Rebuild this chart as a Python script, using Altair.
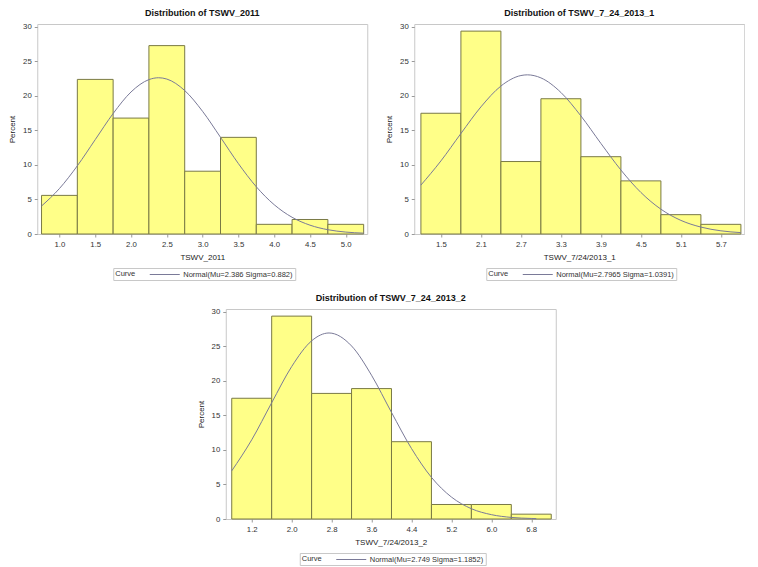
import altair as alt
import pandas as pd

# ---------------- data ----------------
titles = ["Distribution of TSWV_2011",
          "Distribution of TSWV_7_24_2013_1",
          "Distribution of TSWV_7_24_2013_2"]
x_titles = ["TSWV_2011", "TSWV_7/24/2013_1", "TSWV_7/24/2013_2"]
curve_labels = ["Normal(Mu=2.386 Sigma=0.882)",
                "Normal(Mu=2.7965 Sigma=1.0391)",
                "Normal(Mu=2.749 Sigma=1.1852)"]
bin_widths = [0.5, 0.6, 0.8]
y_ticks = [0, 5, 10, 15, 20, 25, 30]

mid_2011 = [1.0, 1.5, 2.0, 2.5, 3.0, 3.5, 4.0, 4.5, 5.0]
pct_2011 = [5.59, 22.38, 16.78, 27.27, 9.09, 13.99, 1.40, 2.10, 1.40]
curve_x_2011 = [0.75, 1.0, 1.25, 1.5, 1.75, 2.0, 2.25, 2.386, 2.5, 2.75, 3.0,
                3.25, 3.5, 3.75, 4.0, 4.25, 4.5, 4.75, 5.0, 5.25]
curve_y_2011 = [4.05, 6.58, 9.87, 13.66, 17.44, 20.56, 22.35, 22.62, 22.43, 20.77,
                17.75, 14.00, 10.19, 6.84, 4.24, 2.42, 1.28, 0.62, 0.28, 0.12]

mid_2013_1 = [1.5, 2.1, 2.7, 3.3, 3.9, 4.5, 5.1, 5.7]
pct_2013_1 = [17.48, 29.37, 10.49, 19.58, 11.19, 7.69, 2.80, 1.40]
curve_x_2013_1 = [1.2, 1.5, 1.8, 2.1, 2.4, 2.7, 2.7965, 3.0, 3.3, 3.6, 3.9,
                  4.2, 4.5, 4.8, 5.1, 5.4, 5.7, 6.0]
curve_y_2013_1 = [7.08, 10.58, 14.55, 18.40, 21.42, 22.94, 23.04, 22.60, 20.49,
                  17.09, 13.11, 9.26, 6.01, 3.59, 1.97, 1.00, 0.46, 0.20]

mid_2013_2 = [1.2, 2.0, 2.8, 3.6, 4.4, 5.2, 6.0, 6.8]
pct_2013_2 = [17.48, 29.37, 18.18, 18.88, 11.19, 2.10, 2.10, 0.70]
curve_x_2013_2 = [0.8, 1.2, 1.6, 2.0, 2.4, 2.749, 3.2, 3.6, 4.0, 4.4, 4.8,
                  5.2, 5.6, 6.0, 6.4, 6.8, 6.9]
curve_y_2013_2 = [6.97, 11.46, 16.83, 22.06, 25.79, 26.93, 25.05, 20.81, 15.43,
                  10.21, 6.03, 3.18, 1.49, 0.63, 0.23, 0.08, 0.06]

# ---------------- style ----------------
FONT = "Liberation Sans"
BAR_FILL = "#FFFF88"
BAR_STROKE = "#7a7a45"
CURVE = "#7a7a98"
W, H = 330, 210


def panel(i, mids, pcts, cx, cy, xdom, legend_w):
    w = bin_widths[i]
    bars_df = pd.DataFrame({"lo": [m - w / 2 for m in mids],
                            "hi": [m + w / 2 for m in mids],
                            "pct": pcts})
    curve_df = pd.DataFrame({"x": cx, "y": cy, "curve": [curve_labels[i]] * len(cx)})
    xs = alt.Scale(domain=xdom, nice=False, zero=False)
    ys = alt.Scale(domain=[0, 30.4], nice=False)
    xaxis = alt.Axis(values=mids, format=".1f", title=x_titles[i])
    yaxis = alt.Axis(values=y_ticks, format="d", title="Percent")
    bars = alt.Chart(bars_df).mark_rect(
        fill=BAR_FILL, stroke=BAR_STROKE, strokeWidth=1
    ).encode(
        x=alt.X("lo:Q", scale=xs, axis=xaxis),
        x2="hi:Q",
        y=alt.Y("pct:Q", scale=ys, axis=yaxis),
        y2=alt.datum(0),
    )
    curve = alt.Chart(curve_df).mark_line(
        strokeWidth=1, interpolate="monotone"
    ).encode(
        x=alt.X("x:Q", scale=xs, axis=xaxis),
        y=alt.Y("y:Q", scale=ys, axis=yaxis),
        color=alt.Color(
            "curve:N",
            scale=alt.Scale(range=[CURVE]),
            legend=alt.Legend(
                title="Curve", orient="none",
                legendX=(W - legend_w) / 2, legendY=H + 34,
                direction="horizontal", titleOrient="left",
                titleAnchor="middle", titleBaseline="middle",
                titleFont=FONT, titleFontSize=7.5, titleFontWeight="normal",
                titleColor="#333333", titlePadding=24,
                labelFont=FONT, labelFontSize=7.5, labelColor="#333333",
                labelLimit=300, labelOffset=14,
                symbolType="M-3.75,0H3.75", symbolSize=64, symbolStrokeWidth=1,
                strokeColor="#c8c8c8", fillColor="white", padding=2,
            ),
        ),
    )
    return alt.layer(bars, curve).properties(
        width=W, height=H,
        title=alt.TitleParams(titles[i], frame="group", anchor="middle"),
    )


p1 = panel(0, mid_2011, pct_2011, curve_x_2011, curve_y_2011, [0.69, 5.30], 178)
p2 = panel(1, mid_2013_1, pct_2013_1, curve_x_2013_1, curve_y_2013_1, [1.10, 6.05], 186)
p3 = panel(2, mid_2013_2, pct_2013_2, curve_x_2013_2, curve_y_2013_2, [0.68, 7.29], 182)

top = alt.hconcat(p1, p2, spacing=16).resolve_scale(
    x="independent", y="independent", color="independent"
).resolve_legend(color="independent")

chart = alt.vconcat(top, p3, spacing=12, center=True).resolve_scale(
    x="independent", y="independent", color="independent"
).resolve_legend(color="independent").properties(
    padding=0, background="white"
).configure_view(
    stroke="#c8c8c8", strokeWidth=1
).configure_axis(
    domain=False, grid=False, tickColor="#9a9a9a", tickSize=3,
    labelFont=FONT, labelFontSize=7.8, labelColor="#333333", labelPadding=3,
    titleFont=FONT, titleFontSize=8, titleFontWeight="normal", titleColor="#222222",
).configure_axisX(titlePadding=6).configure_axisY(titlePadding=6).configure_title(
    font=FONT, fontSize=9, fontWeight="bold", color="#111111", offset=5
)

chart.save("out.html", embed_options={"renderer": "svg", "actions": False})
